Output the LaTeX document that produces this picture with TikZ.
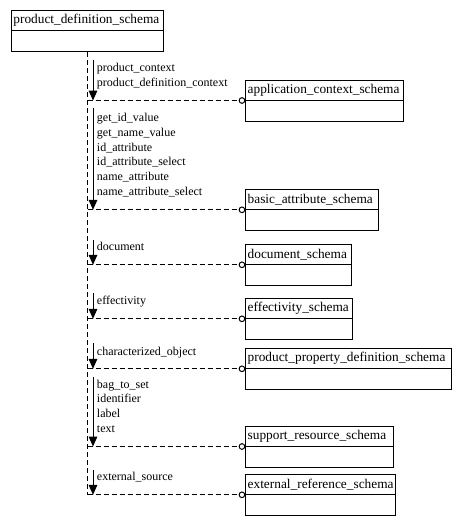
\documentclass[tikz,border=0pt]{standalone}
\usepackage{fontspec}
\setmainfont{Liberation Serif}
\usetikzlibrary{arrows.meta}
\newcommand{\SchemaBox}[5]{%
  \node[sbox, minimum width=#4*0.75pt] (#1) at (#2,#3) {};
  \draw[boxline] ([yshift=-15.375pt]#1.north west) coordinate (#1-d) -- ([yshift=-15.375pt]#1.north east);
  \node[stitle] (#1-t) at ([xshift=1.6pt,yshift=-7.6pt]#1.north west) {#5};
}
\begin{document}
\begin{tikzpicture}[x=0.75pt,y=-0.75pt,
  boxline/.style={line width=0.75pt},
  sbox/.style={draw, line width=0.75pt, inner sep=0pt, minimum height=30.75pt, anchor=north west},
  stitle/.style={anchor=west, inner sep=0pt, font=\fontsize{10}{12}\selectfont},
  lbl/.style={anchor=base west, inner sep=0pt, font=\fontsize{9}{11}\selectfont},
  trunk/.style={line width=0.75pt, dash pattern=on 3.75pt off 2.25pt},
  conn/.style={trunk, -{Circle[open,length=5pt,width=5pt,line width=0.75pt]}},
  flow/.style={line width=0.75pt, -{Triangle[length=7.5pt,width=6.5pt]}}]
\useasboundingbox (0,0) rectangle (461,525);

% schema boxes
\SchemaBox{pds}{11}{10}{152}{product\_definition\_schema}
\SchemaBox{acs}{245.3}{80}{157.7}{application\_context\_schema}
\SchemaBox{bas}{245.3}{189.3}{132.7}{basic\_attribute\_schema}
\SchemaBox{dos}{245.3}{244.3}{106}{document\_schema}
\SchemaBox{efs}{245.3}{298.3}{107}{effectivity\_schema}
\SchemaBox{pps}{245.3}{348.3}{205.7}{product\_property\_definition\_schema}
\SchemaBox{srs}{245.3}{426}{148}{support\_resource\_schema}
\SchemaBox{ers}{245.3}{474.3}{149.7}{external\_reference\_schema}

% trunk
\draw[trunk] (pds.south) -- (pds.south |- ers-d);

% connectors
\foreach \b in {acs,bas,dos,efs,pps,srs,ers}
  \draw[conn] (pds.south |- \b-d) -- (\b-d);

% flow arrows
\coordinate (f1) at (93,60);
\coordinate (f2) at (93,108.3);
\coordinate (f3) at (93,240);
\coordinate (f4) at (93,293.3);
\coordinate (f5) at (93,343);
\coordinate (f6) at (93,376.7);
\coordinate (f7) at (93,470);
\draw[flow] (f1) -- (f1 |- acs-d);
\draw[flow] (f2) -- (f2 |- bas-d);
\draw[flow] (f3) -- (f3 |- dos-d);
\draw[flow] (f4) -- (f4 |- efs-d);
\draw[flow] (f5) -- (f5 |- pps-d);
\draw[flow] (f6) -- (f6 |- srs-d);
\draw[flow] (f7) -- (f7 |- ers-d);

% labels
\node[lbl] (l1a) at (96.7,71.8) {product\_context};
\node[lbl] (l1b) at (96.7,86.3) {product\_definition\_context};

\node[lbl] (l2a) at (96.7,121.7) {get\_id\_value};
\node[lbl] (l2b) at (96.7,136.4) {get\_name\_value};
\node[lbl] (l2c) at (96.7,151.1) {id\_attribute};
\node[lbl] (l2d) at (96.7,165.8) {id\_attribute\_select};
\node[lbl] (l2e) at (96.7,180.5) {name\_attribute};
\node[lbl] (l2f) at (96.7,195.2) {name\_attribute\_select};

\node[lbl] (l3a) at (96.7,250.5) {document};
\node[lbl] (l4a) at (96.7,304.5) {effectivity};
\node[lbl] (l5a) at (96.7,355) {characterized\_object};

\node[lbl] (l6a) at (96.7,388.2) {bag\_to\_set};
\node[lbl] (l6b) at (96.7,402.9) {identifier};
\node[lbl] (l6c) at (96.7,417.6) {label};
\node[lbl] (l6d) at (96.7,432.3) {text};

\node[lbl] (l7a) at (96.7,480.7) {external\_source};
\end{tikzpicture}
\end{document}
